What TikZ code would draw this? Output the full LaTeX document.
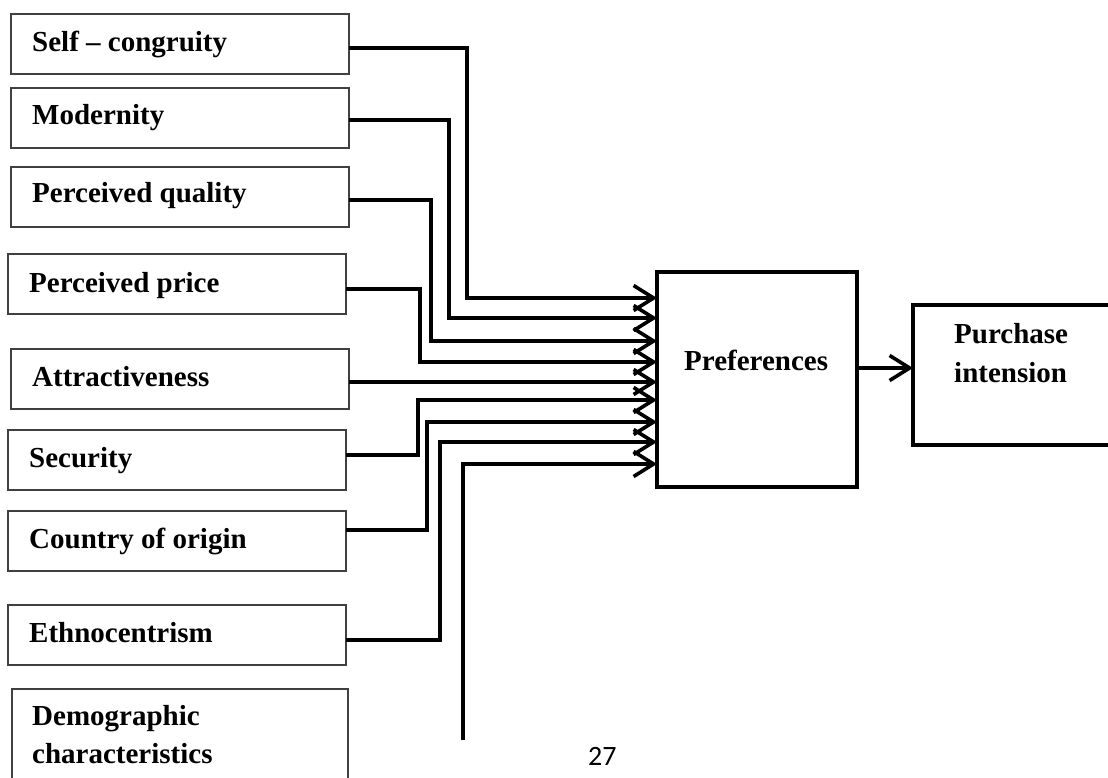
\documentclass[tikz,border=0pt]{standalone}
\usepackage{fontspec}
\setmainfont{Liberation Serif}
\newfontfamily\pagefont{Carlito}
\usetikzlibrary{arrows.meta}
\begin{document}
\begin{tikzpicture}[x=1pt,y=-1pt,
  lbox/.style={draw=black!75,line width=1.3pt,inner sep=0pt,outer sep=0pt,anchor=north west,minimum width=338pt,minimum height=60pt},
  bbox/.style={draw=black,line width=4pt,inner sep=0pt,outer sep=0pt,anchor=north west},
  lbl/.style={anchor=base west,inner sep=0pt,font=\fontsize{29}{38}\selectfont\bfseries},
  conn/.style={line width=3.4pt},
  arr/.style={conn,-{Straight Barb[length=20pt,width=25pt,line width=3.6pt 0]}}]
\path[use as bounding box] (0,0) rectangle (1108,778);
\clip (0,0) rectangle (1108,778);

% input boxes
\node[lbox] (sc) at (11,14) {};
\node[lbox] (mo) at (11,88) {};
\node[lbox] (pq) at (11,167) {};
\node[lbox] (pp) at (8,254) {};
\node[lbox] (at) at (11,349) {};
\node[lbox] (se) at (8,430) {};
\node[lbox] (co) at (8,511) {};
\node[lbox] (et) at (8,605) {};
\node[lbox,minimum width=336pt,minimum height=120pt] (dc) at (12,689) {};

\node[lbl] (tsc) at (32,52) {Self – congruity};
\node[lbl] (tmo) at (32,125) {Modernity};
\node[lbl] (tpq) at (32,203) {Perceived quality};
\node[lbl] (tpp) at (29,292) {Perceived price};
\node[lbl] (tat) at (32,386) {Attractiveness};
\node[lbl] (tse) at (29,467) {Security};
\node[lbl] (tco) at (29,548) {Country of origin};
\node[lbl] (tet) at (29,642) {Ethnocentrism};
\node[lbl] (tdc1) at (32,725) {Demographic};
\node[lbl] (tdc2) at (32,763) {characteristics};

% main boxes
\node[bbox,minimum width=200pt,minimum height=215pt] (pref) at (657,272) {};
\node[lbl] (tpref) at (684,370) {Preferences};
\node[bbox,minimum width=240pt,minimum height=140pt] (pur) at (913,305) {};
\node[lbl] (tpur1) at (954,343) {Purchase};
\node[lbl] (tpur2) at (954,382) {intension};

% connectors
\draw[arr] (sc.east |- 0,48) -| (467,298) -- (pref.west |- 0,298);
\draw[arr] (mo.east |- 0,120) -| (449,318) -- (pref.west |- 0,318);
\draw[arr] (pq.east |- 0,200) -| (431,341) -- (pref.west |- 0,341);
\draw[arr] (pp.east |- 0,289) -| (420,362) -- (pref.west |- 0,362);
\draw[arr] (at.east |- 0,382) -- (pref.west |- 0,382);
\draw[arr] (se.east |- 0,455) -| (418,400) -- (pref.west |- 0,400);
\draw[arr] (co.east |- 0,530) -| (427,422) -- (pref.west |- 0,422);
\draw[arr] (et.east |- 0,640) -| (440,442) -- (pref.west |- 0,442);
\coordinate (dcend) at (463,740);
\draw[arr] (dcend) |- (pref.west |- 0,464);
\draw[arr] (pref.east |- 0,368) -- (pur.west |- 0,368);

\node[anchor=base west,inner sep=0pt,font=\pagefont\fontsize{28}{30}\selectfont] (pg) at (588,765) {27};
\end{tikzpicture}
\end{document}
